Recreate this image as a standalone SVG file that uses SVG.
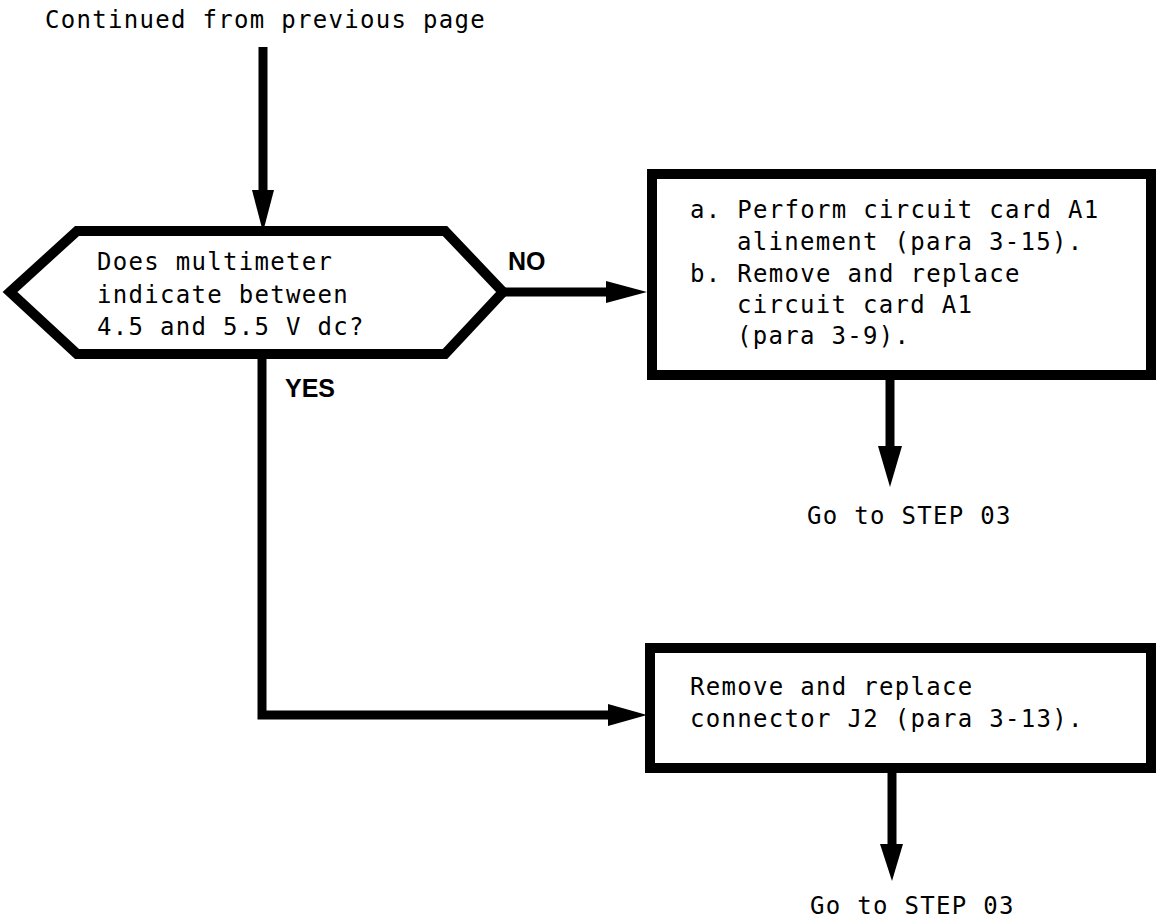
<svg xmlns="http://www.w3.org/2000/svg" width="1157" height="923" viewBox="0 0 1157 923">
<style>
.t{font-family:"DejaVu Sans Mono","Liberation Mono",monospace;font-size:24px;letter-spacing:1.3px;fill:#000}
.b{font-family:"Liberation Sans",Arial,sans-serif;font-size:25px;font-weight:bold;fill:#000}
.shape{fill:#fff;stroke:#000;stroke-width:10;stroke-linejoin:miter}
.line{fill:none;stroke:#000;stroke-width:9;stroke-linejoin:miter}
.head{fill:#000;stroke:none}
</style>
<rect width="1157" height="923" fill="#fff"/>
<text class="t" x="45" y="28">Continued from previous page</text>
<g id="connectors">
<line class="line" x1="263" y1="47" x2="263" y2="194"/>
<polygon class="head" points="252,190 274,190 263,232"/>
<line class="line" x1="503" y1="292" x2="610" y2="292"/>
<polygon class="head" points="606,281 606,303 647,292"/>
<line class="line" x1="890" y1="380" x2="890" y2="450"/>
<polygon class="head" points="878,446 902,446 890,487"/>
<polyline class="line" points="262,354 262,715 612,715"/>
<polygon class="head" points="608,704 608,726 647,715"/>
<line class="line" x1="892" y1="772" x2="892" y2="848"/>
<polygon class="head" points="880,844 903,844 892,881"/>
</g>
<g id="decision">
<polygon class="shape" stroke-width="8" points="10,292 77,231 445,231 503,292 445,354 77,354"/>
<text class="t" x="97" y="270">Does multimeter</text>
<text class="t" x="97" y="303">indicate between</text>
<text class="t" x="97" y="335">4.5 and 5.5 V dc?</text>
</g>
<g id="label-no"><text class="b" x="508" y="270">NO</text></g>
<g id="label-yes"><text class="b" x="285" y="397">YES</text></g>
<g id="box-a1">
<rect class="shape" x="652" y="174" width="499" height="201"/>
<text class="t" x="690" y="218">a. Perform circuit card A1</text>
<text class="t" x="737" y="250">alinement (para 3-15).</text>
<text class="t" x="690" y="282">b. Remove and replace</text>
<text class="t" x="737" y="313">circuit card A1</text>
<text class="t" x="737" y="344">(para 3-9).</text>
</g>
<g id="goto-1"><text class="t" x="807" y="524">Go to STEP 03</text></g>
<g id="box-j2">
<rect class="shape" x="650" y="648" width="501" height="120"/>
<text class="t" x="690" y="695">Remove and replace</text>
<text class="t" x="690" y="727">connector J2 (para 3-13).</text>
</g>
<g id="goto-2"><text class="t" x="810" y="914">Go to STEP 03</text></g>
</svg>
